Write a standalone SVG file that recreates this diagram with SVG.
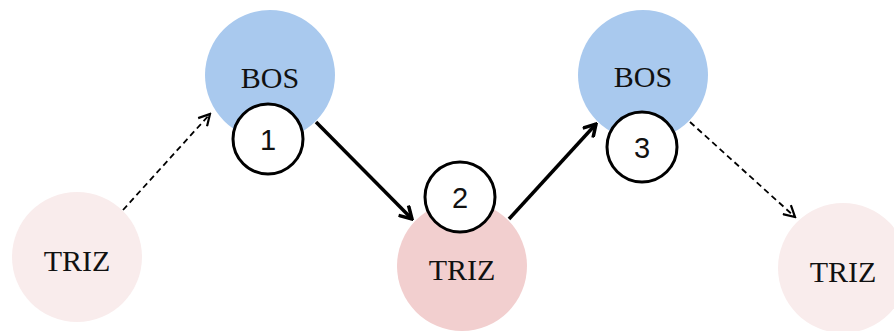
<svg xmlns="http://www.w3.org/2000/svg" width="894" height="331" viewBox="0 0 894 331">
<style>
.bos{fill:#a9c9ee}
.trizL{fill:#f9ecec}
.trizM{fill:#f2cfcf}
.lbl{font-family:"Liberation Serif","Times New Roman",serif;font-size:30px;fill:#111;text-anchor:middle}
.num{fill:#fff;stroke:#000;stroke-width:3}
.numt{font-family:"Liberation Sans",Arial,sans-serif;font-size:29px;fill:#111;text-anchor:middle}
.solid{stroke:#000;stroke-width:3.5;fill:none}
.dash{stroke:#000;stroke-width:1.8;stroke-dasharray:6,4;fill:none}
</style>
<defs>
<marker id="hs" markerUnits="userSpaceOnUse" viewBox="0 0 16 16" refX="14" refY="8" markerWidth="16" markerHeight="16" orient="auto">
<path d="M2,1 L14,8 L2,15" fill="none" stroke="#000" stroke-width="3.5"/>
</marker>
<marker id="hd" markerUnits="userSpaceOnUse" viewBox="0 0 14 14" refX="12" refY="7" markerWidth="14" markerHeight="14" orient="auto">
<path d="M1,1 L12,7 L1,13" fill="none" stroke="#000" stroke-width="2.2"/>
</marker>
</defs>
<g id="connectors">
<line class="dash" x1="123" y1="210" x2="210" y2="114" marker-end="url(#hd)"/>
<line class="solid" x1="316" y1="122" x2="412" y2="219" marker-end="url(#hs)"/>
<line class="solid" x1="509" y1="219" x2="596" y2="124" marker-end="url(#hs)"/>
<line class="dash" x1="690" y1="122" x2="795" y2="217" marker-end="url(#hd)"/>
</g>
<g id="triz1">
<circle class="trizL" cx="77" cy="257" r="65"/>
<text class="lbl" x="77" y="271">TRIZ</text>
</g>
<g id="bos1">
<circle class="bos" cx="270" cy="75" r="65"/>
<text class="lbl" x="270" y="88">BOS</text>
</g>
<g id="triz2">
<circle class="trizM" cx="462" cy="266" r="65"/>
<text class="lbl" x="462" y="280">TRIZ</text>
</g>
<g id="bos2">
<circle class="bos" cx="643" cy="75" r="65"/>
<text class="lbl" x="643" y="87">BOS</text>
</g>
<g id="triz3">
<circle class="trizL" cx="843" cy="268" r="65"/>
<text class="lbl" x="843" y="282">TRIZ</text>
</g>
<g id="n1">
<circle class="num" cx="268" cy="139" r="35"/>
<text class="numt" x="268" y="150">1</text>
</g>
<g id="n2">
<circle class="num" cx="460" cy="197" r="35"/>
<text class="numt" x="460" y="208">2</text>
</g>
<g id="n3">
<circle class="num" cx="642" cy="147" r="35"/>
<text class="numt" x="642" y="158">3</text>
</g>
</svg>
